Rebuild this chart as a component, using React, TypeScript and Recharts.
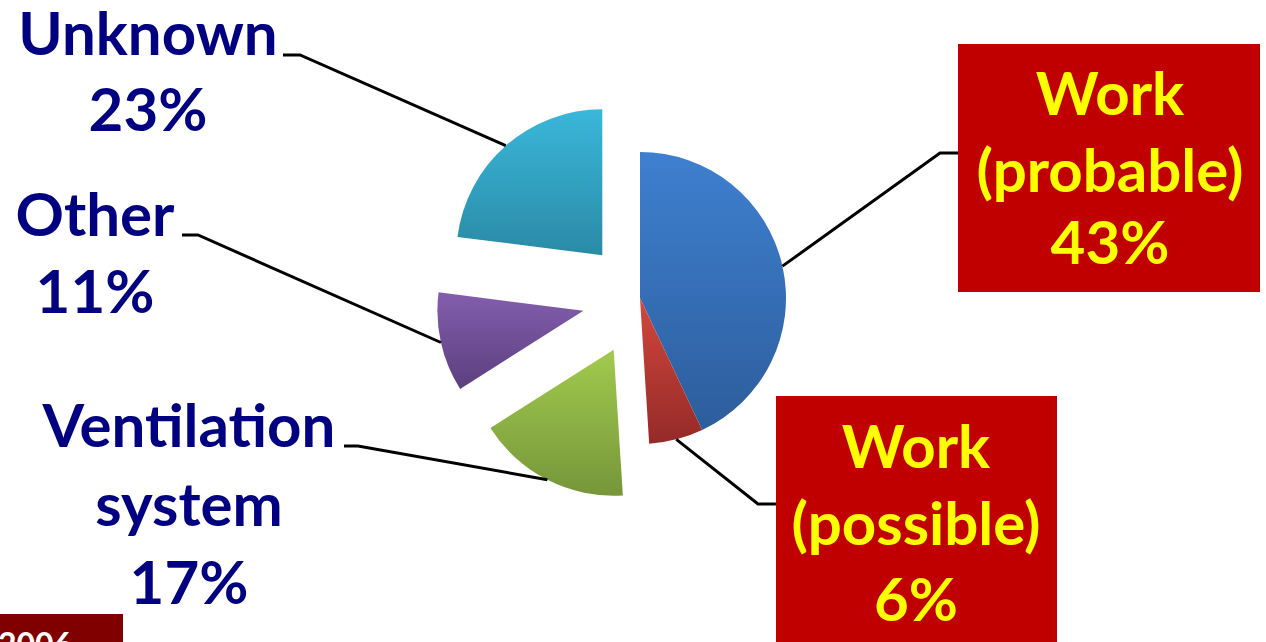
import { Cell, Pie, PieChart } from "recharts";

const names = ["Work (probable)", "Work (possible)", "Ventilation system", "Other", "Unknown"];
const shares = [43, 6, 17, 11, 23];
const explode = [0, 0, 58, 58, 57];

const data = names.map((name, i) => ({ name, value: shares[i] }));

const gradients = [
  ["gBlue", "#3e80d0", "#2d5d9c"],
  ["gRed", "#d2473d", "#952a28"],
  ["gGreen", "#a2ca4e", "#76963a"],
  ["gPurple", "#835eae", "#5c3f7e"],
  ["gCyan", "#3ab7da", "#2a8aa6"],
];

const CX = 640;
const CY = 298;
const R = 146;
const RAD = Math.PI / 180;
const FONT = "Lato, 'Open Sans', sans-serif";

// label placement, one entry per slice
const layout: Record<string, any> = {
  "Work (probable)": {
    lines: ["Work", "(probable)"],
    x: 1110,
    ys: [115, 192, 264],
    box: [958, 44, 302, 248],
    elbow: [[958, 153], [940, 153]],
  },
  "Work (possible)": {
    lines: ["Work", "(possible)"],
    x: 916,
    ys: [468, 545, 621],
    box: [776, 396, 281, 260],
    elbow: [[776, 504], [758, 504]],
  },
  "Ventilation system": {
    lines: ["Ventilation", "system"],
    x: 189,
    ys: [447, 526, 604],
    elbow: [[344, 446], [358, 446]],
  },
  Other: {
    lines: ["Other"],
    x: 95,
    ys: [236, 313],
    elbow: [[182, 235], [198, 235]],
  },
  Unknown: {
    lines: ["Unknown"],
    x: 148,
    ys: [55, 131],
    elbow: [[283, 55], [300, 55]],
  },
};

// offset of each exploded slice along its middle angle
const total = shares.reduce((a, b) => a + b, 0);
let acc = 0;
const offsets = shares.map((v, i) => {
  const mid = ((acc + v / 2) / total) * 360;
  acc += v;
  return [Math.sin(mid * RAD) * explode[i], -Math.cos(mid * RAD) * explode[i]];
});

function makeLabel(only: number) {
  return (p: any) => {
    if (p.index !== only) return null;
    const cfg = layout[p.name];
    const ex = p.cx + p.outerRadius * Math.cos(-p.midAngle * RAD);
    const ey = p.cy + p.outerRadius * Math.sin(-p.midAngle * RAD);
    const pts = [...cfg.elbow, [ex, ey]].map((q: number[]) => q.join(",")).join(" ");
    const texts = [...cfg.lines, `${p.value}%`];
    return (
      <g>
        <polyline points={pts} fill="none" stroke="#000" strokeWidth={3} />
        {cfg.box && (
          <rect x={cfg.box[0]} y={cfg.box[1]} width={cfg.box[2]} height={cfg.box[3]} fill="#c00000" />
        )}
        <text
          textAnchor="middle"
          fontFamily={FONT}
          fontWeight={700}
          fontSize={60}
          fill={cfg.box ? "#ffff00" : "#000080"}
        >
          {texts.map((t: string, k: number) => (
            <tspan key={k} x={cfg.x} y={cfg.ys[k]}>
              {t}
            </tspan>
          ))}
        </text>
      </g>
    );
  };
}

export default function App() {
  return (
    <div
      style={{
        position: "absolute",
        left: 0,
        top: 0,
        width: 1266,
        height: 642,
        overflow: "hidden",
        background: "#fff",
      }}
    >
      <PieChart width={1266} height={642} margin={{ top: 0, right: 0, bottom: 0, left: 0 }}>
        <defs>
          {gradients.map(([id, top, bottom]) => (
            <linearGradient key={id} id={id} x1="0" y1="0" x2="0" y2="1">
              <stop offset="0%" stopColor={top} />
              <stop offset="100%" stopColor={bottom} />
            </linearGradient>
          ))}
        </defs>
        {data.map((_, i) => (
          <Pie
            key={i}
            data={data}
            dataKey="value"
            nameKey="name"
            cx={CX + offsets[i][0]}
            cy={CY + offsets[i][1]}
            outerRadius={R}
            startAngle={90}
            endAngle={-270}
            stroke="none"
            labelLine={false}
            label={makeLabel(i)}
            isAnimationActive={false}
          >
            {data.map((d, j) => (
              <Cell key={d.name} fill={j === i ? `url(#${gradients[j][0]})` : "transparent"} />
            ))}
          </Pie>
        ))}
      </PieChart>
      <div
        style={{
          position: "absolute",
          left: 0,
          top: 614,
          width: 123,
          height: 40,
          background: "#800000",
          overflow: "hidden",
        }}
      >
        <span
          style={{
            position: "absolute",
            left: -2,
            top: 14,
            color: "#fff",
            fontFamily: FONT,
            fontWeight: 700,
            fontSize: 32,
            lineHeight: "32px",
          }}
        >
          2006
        </span>
      </div>
    </div>
  );
}
